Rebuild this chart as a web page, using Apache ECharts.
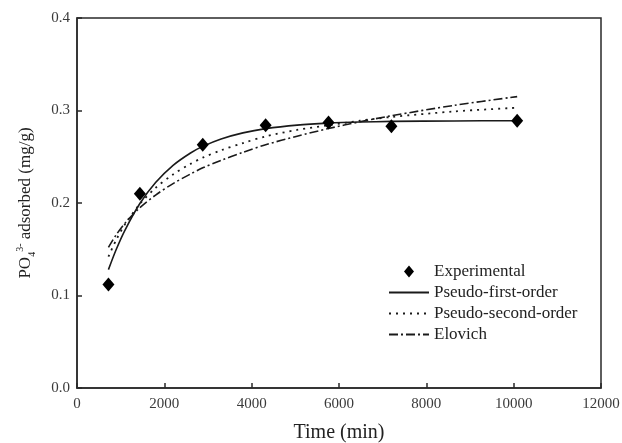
<!DOCTYPE html>
<html>
<head>
<meta charset="utf-8">
<script src="https://cdn.jsdelivr.net/npm/echarts@6/dist/echarts.min.js"></script>
<style>
  html, body { margin: 0; padding: 0; background: #fff; }
  #main { width: 622px; height: 443px; }
</style>
</head>
<body>
<div id="main"></div>
<script>
// measured points
var expTimes = [720, 1440, 2880, 4320, 5760, 7200, 10080];
var expVals = [0.112, 0.210, 0.263, 0.284, 0.287, 0.283, 0.289];

// fitted curves
var fitTimes = [720, 900, 1100, 1440, 1800, 2200, 2600, 2880, 3300, 3800, 4320, 5040, 5760, 6480, 7200, 8640, 10080];
var firstOrder = [0.128, 0.150, 0.1708, 0.1994, 0.2221, 0.2407, 0.2541, 0.2612, 0.2692, 0.2758, 0.2804, 0.2842, 0.2863, 0.2875, 0.2882, 0.2887, 0.289];
var secondOrder = [0.142, 0.1603, 0.177, 0.199, 0.2163, 0.2309, 0.2423, 0.249, 0.257, 0.2648, 0.272, 0.279, 0.284, 0.289, 0.293, 0.299, 0.303];
var elovich = [0.152, 0.1658, 0.1782, 0.195, 0.2086, 0.221, 0.2314, 0.238, 0.2461, 0.2548, 0.263, 0.2722, 0.2805, 0.2878, 0.2943, 0.3056, 0.315];

var seriesNames = ['Experimental', 'Pseudo-first-order', 'Pseudo-second-order', 'Elovich'];

function pairs(xs, ys) {
  return xs.map(function (x, i) { return [x, ys[i]]; });
}

var serif = 'Liberation Serif, Times New Roman, serif';
var ink = '#1a1a1a';
var chart = echarts.init(document.getElementById('main'));

// small diamond in the middle of a wide legend box
var diamondIcon = 'path://M0,6L0.01,6M20,0L25,6L20,12L15,6ZM40,6L40.01,6';

chart.setOption({
  animation: false,
  grid: {
    left: 77,
    right: 21,
    top: 18,
    bottom: 55,
    containLabel: false,
    outerBoundsMode: 'none',
    show: true,
    borderColor: '#2a2a2a',
    borderWidth: 1.5
  },
  legend: {
    orient: 'vertical',
    left: 383,
    top: 258,
    itemWidth: 40,
    itemHeight: 12,
    itemGap: 4,
    textStyle: { fontFamily: serif, fontSize: 17, color: '#222', lineHeight: 17 },
    data: [
      { name: seriesNames[0], icon: diamondIcon },
      { name: seriesNames[1], itemStyle: { opacity: 0 } },
      { name: seriesNames[2], itemStyle: { opacity: 0 } },
      { name: seriesNames[3], itemStyle: { opacity: 0 } }
    ]
  },
  xAxis: {
    type: 'value',
    min: 0,
    max: 12000,
    interval: 2000,
    name: 'Time (min)',
    nameLocation: 'middle',
    nameGap: 35,
    nameTextStyle: { fontFamily: serif, fontSize: 20, color: '#222' },
    axisLine: { lineStyle: { color: '#2a2a2a', width: 1.5 } },
    axisTick: { inside: true, length: 5, lineStyle: { color: '#2a2a2a', width: 1.5 } },
    axisLabel: {
      fontFamily: serif, fontSize: 15, color: '#3a3a3a', margin: 9,
      formatter: function (v) { return String(v); }
    },
    splitLine: { show: false }
  },
  yAxis: {
    type: 'value',
    min: 0,
    max: 0.4,
    interval: 0.1,
    name: '{t|PO}{sub|4}{sup|3-}{t| adsorbed (mg/g)}',
    nameLocation: 'middle',
    nameGap: 40,
    nameTextStyle: {
      fontFamily: serif,
      fontSize: 17,
      color: '#222',
      rich: {
        t: { fontFamily: serif, fontSize: 17, color: '#222', lineHeight: 22 },
        sub: { fontFamily: serif, fontSize: 10, color: '#222', verticalAlign: 'bottom', lineHeight: 22 },
        sup: { fontFamily: serif, fontSize: 10, color: '#222', verticalAlign: 'top', lineHeight: 22 }
      }
    },
    axisLine: { lineStyle: { color: '#2a2a2a', width: 1.5 } },
    axisTick: { inside: true, length: 5, lineStyle: { color: '#2a2a2a', width: 1.5 } },
    axisLabel: {
      fontFamily: serif, fontSize: 15, color: '#3a3a3a', margin: 7,
      formatter: function (v) { return v.toFixed(1); }
    },
    splitLine: { show: false }
  },
  series: [
    {
      name: seriesNames[0],
      type: 'scatter',
      symbol: 'diamond',
      symbolSize: [12, 14],
      itemStyle: { color: '#000', opacity: 1 },
      z: 5,
      data: pairs(expTimes, expVals)
    },
    {
      name: seriesNames[1],
      type: 'line',
      smooth: 0.3,
      showSymbol: false,
      symbol: 'none',
      lineStyle: { color: ink, width: 1.6, type: 'solid' },
      itemStyle: { color: ink },
      data: pairs(fitTimes, firstOrder)
    },
    {
      name: seriesNames[2],
      type: 'line',
      smooth: 0.3,
      showSymbol: false,
      symbol: 'none',
      lineStyle: { color: ink, width: 1.8, type: [2, 5] },
      itemStyle: { color: ink },
      data: pairs(fitTimes, secondOrder)
    },
    {
      name: seriesNames[3],
      type: 'line',
      smooth: 0.3,
      showSymbol: false,
      symbol: 'none',
      lineStyle: { color: ink, width: 1.6, type: [9, 3, 2, 3] },
      itemStyle: { color: ink },
      data: pairs(fitTimes, elovich)
    }
  ]
});
</script>
</body>
</html>
